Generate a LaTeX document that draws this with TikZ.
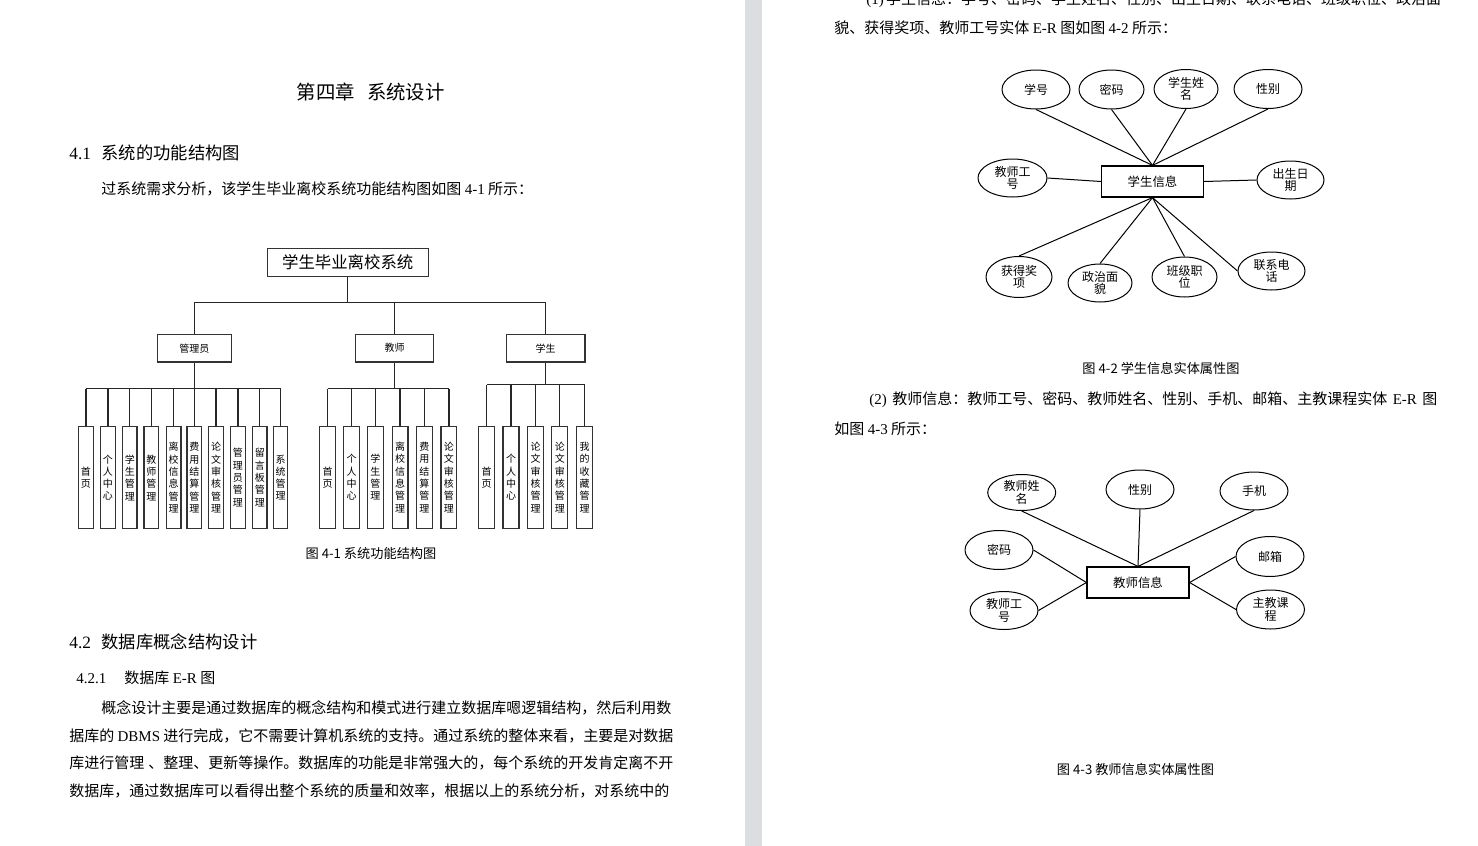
\documentclass[tikz,border=0pt]{standalone}
\usepackage{fontspec}
\setmainfont{Noto Sans CJK SC}
\newfontfamily\tm{Liberation Serif}
\usetikzlibrary{shapes.geometric}
\XeTeXlinebreaklocale "zh"
\XeTeXlinebreakskip=0pt plus 2pt
\definecolor{sepgray}{RGB}{220,221,224}
\newcommand{\fbody}{\fontsize{7.5pt}{9pt}\selectfont}
\tikzset{
  txt/.style={inner sep=0pt, anchor=west, text height=0.88em, text depth=0.12em},
  ln/.style={line width=0.65pt, draw=black!85},
  sbox/.style={draw=black!80, line width=0.65pt, inner sep=0pt, fill=white},
  leafbox/.style={sbox, minimum height=50.9pt, align=center, font=\fontsize{5pt}{6.15pt}\selectfont},
  midbox/.style={sbox, minimum height=13.85pt, font=\fontsize{5pt}{6pt}\selectfont},
  attr/.style={ellipse, draw, line width=0.5pt, inner sep=0pt, minimum width=34pt, minimum height=19.5pt, align=center, font=\fontsize{6pt}{6.1pt}\selectfont},
  ent/.style={draw, line width=0.6pt, inner sep=0pt, minimum width=51pt, minimum height=15.5pt, font=\fontsize{6.2pt}{7pt}\selectfont},
  erl/.style={line width=0.5pt},
  figcap/.style={inner sep=0pt, anchor=center, font=\fontsize{6.6pt}{7pt}\selectfont}
}
\begin{document}
\begin{tikzpicture}[x=0.5pt,y=-0.5pt]
\useasboundingbox (0,0) rectangle (1478,846);
\clip (0,0) rectangle (1478,846);
\fill[white] (0,0) rectangle (1478,846);
\fill[sepgray] (745,0) rectangle (762,846);

% ---------------- left page text ----------------
\node[txt, anchor=center, font=\fontsize{9.7pt}{11pt}\selectfont] (title) at (370.8,92) {第四章\hspace{6pt}系统设计};
\node[txt, font=\fontsize{8.65pt}{10pt}\selectfont] (s41) at (69,151.5) {{\tm 4.1}\hspace{5.3pt}系统的功能结构图};
\node[txt, font=\fbody] (intro) at (101,187) {过系统需求分析，该学生毕业离校系统功能结构图如图 {\tm 4-1} 所示：};

\node[txt, font=\fontsize{8.65pt}{10pt}\selectfont] (s42) at (69,641) {{\tm 4.2}\hspace{5.3pt}数据库概念结构设计};
\node[txt, font=\fbody] (s421) at (76,676) {{\tm 4.2.1}\hspace{9pt}数据库 {\tm E-R} 图};
\node[txt, font=\fbody] (p1) at (101,706) {\hbox to 286pt{概念设计主要是通过数据库的概念结构和模式进行建立数据库嗯逻辑结构，然后利用数}};
\node[txt, font=\fbody] (p2) at (69,733.7) {\hbox to 302pt{据库的 {\tm DBMS} 进行完成，它不需要计算机系统的支持。通过系统的整体来看，主要是对数据}};
\node[txt, font=\fbody] (p3) at (69,761.3) {\hbox to 302pt{库进行管理 、整理、更新等操作。数据库的功能是非常强大的，每个系统的开发肯定离不开}};
\node[txt, font=\fbody] (p4) at (69,789) {\hbox to 302pt{数据库，通过数据库可以看得出整个系统的质量和效率，根据以上的系统分析，对系统中的}};

% ---------------- structure chart ----------------
\node[sbox, minimum width=80.5pt, minimum height=14pt, font=\fontsize{8.2pt}{9pt}\selectfont] (root) at (347.7,262.4) {学生毕业离校系统};
\node[midbox, minimum width=37pt] (admin) at (194.4,348.2) {管理员};
\node[midbox, minimum width=39.1pt] (teach) at (394.5,348.2) {教师};
\node[midbox, minimum width=39.3pt] (stud) at (545.7,348.2) {学生};
\coordinate (mbus) at (0,302.7);
\coordinate (abus) at (0,388.7);
\coordinate (tbus) at (0,388.7);
\coordinate (sbus) at (0,384.7);

\draw[ln] (root.south) -- (root.south |- mbus);
\draw[ln] (admin.north |- mbus) -- (stud.north |- mbus);
\foreach \n in {admin,teach,stud} { \draw[ln] (\n.north |- mbus) -- (\n.north); }
\draw[ln] (admin.south) -- (admin.south |- abus);
\draw[ln] (teach.south) -- (teach.south |- tbus);
\draw[ln] (stud.south) -- (stud.south |- sbus);

\foreach \i/\x/\t in {1/85.9/{首\\页}, 2/107.9/{个\\人\\中\\心}, 3/129.8/{学\\生\\管\\理}, 4/151.4/{教\\师\\管\\理}, 5/173.6/{离\\校\\信\\息\\管\\理}, 6/194.3/{费\\用\\结\\算\\管\\理}, 7/216/{论\\文\\审\\核\\管\\理}, 8/237.9/{管\\理\\员\\管\\理}, 9/259.8/{留\\言\\板\\管\\理}, 10/280.5/{系\\统\\管\\理}} {
  \node[leafbox, minimum width=7.3pt] (al\i) at (\x,477.6) {\t};
  \draw[ln] (al\i.north) -- (al\i.north |- abus);
}
\draw[ln] (al1.north |- abus) -- (al10.north |- abus);

\foreach \i/\x/\t in {1/327.5/{首\\页}, 2/351.6/{个\\人\\中\\心}, 3/375.4/{学\\生\\管\\理}, 4/400/{离\\校\\信\\息\\管\\理}, 5/424.3/{费\\用\\结\\算\\管\\理}, 6/448.9/{论\\文\\审\\核\\管\\理}} {
  \node[leafbox, minimum width=7.85pt] (tl\i) at (\x,477.4) {\t};
  \draw[ln] (tl\i.north) -- (tl\i.north |- tbus);
}
\draw[ln] (tl1.north |- tbus) -- (tl6.north |- tbus);

\foreach \i/\x/\t in {1/486.6/{首\\页}, 2/511/{个\\人\\中\\心}, 3/535.5/{论\\文\\审\\核\\管\\理}, 4/559.8/{论\\文\\审\\核\\管\\理}, 5/584.5/{我\\的\\收\\藏\\管\\理}} {
  \node[leafbox, minimum width=8pt] (sl\i) at (\x,477.4) {\t};
  \draw[ln] (sl\i.north) -- (sl\i.north |- sbus);
}
\draw[ln] (sl1.north |- sbus) -- (sl5.north |- sbus);

\node[figcap] (cap1) at (371,553) {图 4-1 系统功能结构图};

% ---------------- right page text ----------------
\node[txt, font=\fbody] (r1) at (866,-3) {\hbox to 285.5pt{{\tm (1)} 学生信息：学号、密码、学生姓名、性别、出生日期、联系电话、班级职位、政治面}};
\node[txt, font=\fbody] (r2) at (834,26) {貌、获得奖项、教师工号实体 {\tm E-R} 图如图 {\tm 4-2} 所示：};
\node[figcap] (cap2) at (1161,368) {图 4-2 学生信息实体属性图};
\node[txt, font=\fbody] (r3) at (869,397) {\hbox to 284pt{{\tm (2)} 教师信息：教师工号、密码、教师姓名、性别、手机、邮箱、主教课程实体 {\tm E-R} 图}};
\node[txt, font=\fbody] (r4) at (834,427) {如图 {\tm 4-3} 所示：};
\node[figcap] (cap3) at (1135.5,769) {图 4-3 教师信息实体属性图};

% ---------------- ER diagram 1 ----------------
\node[ent] (e1) at (1152.5,181.5) {学生信息};
\node[attr] (a1) at (1036,89.5) {学号};
\node[attr, minimum width=32.5pt] (a2) at (1111.5,89.5) {密码};
\node[attr, minimum width=32pt] (a3) at (1186,89) {学生姓\\名};
\node[attr] (a4) at (1268,89) {性别};
\node[attr, minimum width=34.5pt, minimum height=19pt] (a5) at (1012.5,178) {教师工\\号};
\node[attr, minimum width=33.5pt, minimum height=19pt] (a6) at (1290.5,180) {出生日\\期};
\node[attr, minimum width=33pt, minimum height=20.5pt] (a7) at (1019,277) {获得奖\\项};
\node[attr, minimum width=32pt, minimum height=19pt] (a8) at (1100,283) {政治面\\貌};
\node[attr, minimum width=32.5pt, minimum height=20pt] (a9) at (1184.5,277) {班级职\\位};
\node[attr, minimum width=33.5pt, minimum height=19pt] (a10) at (1271.5,271) {联系电\\话};
\foreach \a in {a1,a2,a3,a4} { \draw[erl] (\a.south) -- (e1.north); }
\draw[erl] (a5.east) -- (e1.west);
\draw[erl] (e1.east) -- (a6.west);
\foreach \a in {a7,a8,a9} { \draw[erl] (e1.south) -- (\a.north); }
\draw[erl] (e1.south) -- (a10.west);

% ---------------- ER diagram 2 ----------------
\node[ent] (e2) at (1138,582.5) {教师信息};
\node[attr, minimum height=18pt] (b1) at (1021.7,492.5) {教师姓\\名};
\node[attr] (b2) at (1140,489.5) {性别};
\node[attr, minimum height=19pt] (b3) at (1254,491) {手机};
\node[attr] (b4) at (999,550) {密码};
\node[attr, minimum height=19pt] (b5) at (1004,610.5) {教师工\\号};
\node[attr, minimum height=20pt] (b6) at (1270,556.5) {邮箱};
\node[attr] (b7) at (1270.5,609.5) {主教课\\程};
\foreach \b in {b1,b2,b3} { \draw[erl] (\b.south) -- (e2.north); }
\draw[erl] (b4.east) -- (e2.west);
\draw[erl] (b5.east) -- (e2.west);
\draw[erl] (b6.west) -- (e2.east);
\draw[erl] (b7.west) -- (e2.east);
\end{tikzpicture}
\end{document}
